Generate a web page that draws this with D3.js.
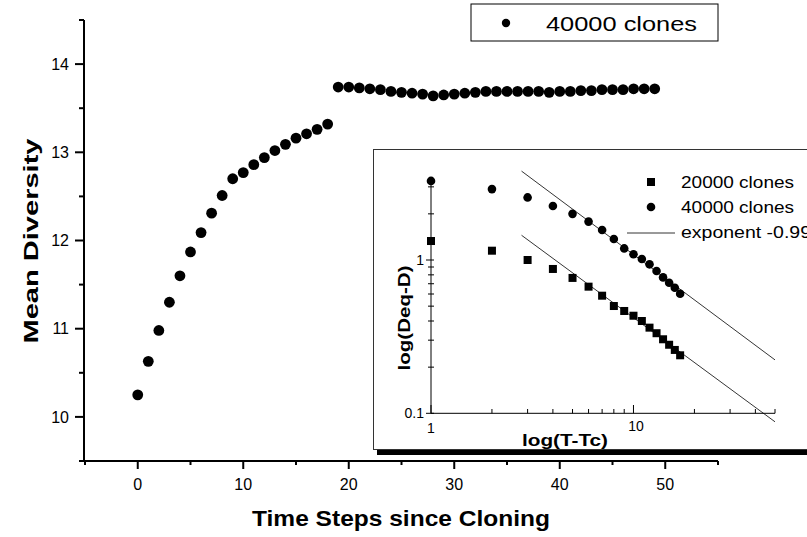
<!DOCTYPE html>
<html>
<head>
<meta charset="utf-8">
<script src="https://cdn.jsdelivr.net/npm/d3@7"></script>
<style>
  body { margin: 0; background: #fff; }
  text { font-family: Arial, "Liberation Sans", sans-serif; fill: #000; }
</style>
</head>
<body>
<script>
// main chart: mean diversity vs time, 40000 clones
var steps = d3.range(0, 50);
var diversity = [
  10.25, 10.63, 10.98, 11.30, 11.60, 11.87, 12.09, 12.31, 12.51, 12.70,
  12.77, 12.86, 12.94, 13.02, 13.09, 13.16, 13.21, 13.26, 13.32, 13.74,
  13.74, 13.73, 13.72, 13.71, 13.69, 13.68, 13.67, 13.66, 13.64, 13.65,
  13.66, 13.67, 13.68, 13.69, 13.69, 13.69, 13.69, 13.69, 13.69, 13.68,
  13.69, 13.69, 13.70, 13.70, 13.71, 13.71, 13.71, 13.72, 13.72, 13.72
];
var xTicks = [0, 10, 20, 30, 40, 50];
var yTicks = [10, 11, 12, 13, 14];

// inset: log(Deq-D) vs log(T-Tc)
var tMinusTc = d3.range(1, 18);
var clones20000 = [1.33, 1.15, 1.00, 0.874, 0.764, 0.670, 0.585, 0.501, 0.465,
                   0.433, 0.400, 0.362, 0.333, 0.304, 0.280, 0.259, 0.239];
var clones40000 = [3.28, 2.90, 2.56, 2.25, 2.00, 1.78, 1.57, 1.37, 1.19,
                   1.09, 1.015, 0.937, 0.848, 0.770, 0.711, 0.659, 0.603];
var fitUpper = [[2.8, 3.8], [50, 0.223]];
var fitLower = [[2.8, 1.45], [50, 0.088]];
var insetLegend = ["20000 clones", "40000 clones", "exponent -0.99"];

var width = 807, height = 537;
var svg = d3.select("body").append("svg")
    .attr("width", width).attr("height", height);

var x = d3.scaleLinear().domain([-5, 55]).range([85, 718]);
var y = d3.scaleLinear().domain([9.5, 14.5]).range([461, 20]);

// axes
var xAxis = svg.append("g").attr("transform", "translate(0,461)");
xAxis.append("line").attr("x1", 84).attr("x2", x(55)).attr("stroke", "#000").attr("stroke-width", 2);
xAxis.selectAll(".minor").data(d3.range(-5, 56, 5)).enter().append("line")
    .attr("x1", function(d) { return x(d); }).attr("x2", function(d) { return x(d); })
    .attr("y1", 0).attr("y2", function(d) { return d % 10 === 0 ? 8 : 4; })
    .attr("stroke", "#000").attr("stroke-width", 2);
xAxis.selectAll(".lbl").data(xTicks).enter().append("text")
    .attr("x", function(d) { return x(d); }).attr("y", 29)
    .attr("text-anchor", "middle").style("font-size", "16px")
    .text(function(d) { return d; });

var yAxis = svg.append("g").attr("transform", "translate(84,0)");
yAxis.append("line").attr("y1", y(14.5)).attr("y2", 462).attr("stroke", "#000").attr("stroke-width", 2);
yAxis.selectAll(".minor").data(d3.range(9.5, 14.6, 0.5)).enter().append("line")
    .attr("y1", function(d) { return y(d); }).attr("y2", function(d) { return y(d); })
    .attr("x1", 0).attr("x2", function(d) { return Math.abs(d - Math.round(d)) < 0.01 ? -9 : -5; })
    .attr("stroke", "#000").attr("stroke-width", 2);
yAxis.selectAll(".lbl").data(yTicks).enter().append("text")
    .attr("x", -15).attr("y", function(d) { return y(d); }).attr("dy", "0.35em")
    .attr("text-anchor", "end").style("font-size", "16px")
    .text(function(d) { return d; });

svg.append("text").attr("x", 401).attr("y", 526).attr("text-anchor", "middle")
    .attr("textLength", 298).attr("lengthAdjust", "spacingAndGlyphs")
    .style("font-size", "22px").style("font-weight", "bold").text("Time Steps since Cloning");
svg.append("text").attr("transform", "translate(38,241) rotate(-90)").attr("text-anchor", "middle")
    .attr("textLength", 205).attr("lengthAdjust", "spacingAndGlyphs")
    .style("font-size", "21px").style("font-weight", "bold").text("Mean Diversity");

// main points
svg.append("g").selectAll("circle").data(steps).enter().append("circle")
    .attr("cx", function(d) { return x(d); })
    .attr("cy", function(d, i) { return y(diversity[i]); })
    .attr("r", 5.4).attr("fill", "#000");

// main legend
var leg = svg.append("g");
leg.append("rect").attr("x", 471).attr("y", 4).attr("width", 247).attr("height", 37)
    .attr("fill", "#fff").attr("stroke", "#000").attr("stroke-width", 1);
leg.append("circle").attr("cx", 506).attr("cy", 23).attr("r", 4.2).attr("fill", "#000");
leg.append("text").attr("x", 546).attr("y", 31)
    .attr("textLength", 151).attr("lengthAdjust", "spacingAndGlyphs")
    .style("font-size", "21px").text("40000 clones");

// inset frame with shadow
var inset = svg.append("g");
inset.append("rect").attr("x", 377).attr("y", 450).attr("width", 440).attr("height", 5).attr("fill", "#000");
inset.append("rect").attr("x", 373.5).attr("y", 149.5).attr("width", 450).attr("height", 300)
    .attr("fill", "#fff").attr("stroke", "#333").attr("stroke-width", 1);

var lx = d3.scaleLog().domain([1, 50]).range([431, 775]);
var ly = d3.scaleLog().domain([0.1, 3.3]).range([413.3, 260 - Math.log10(3.3) * 153.3]);

// inset axes
inset.append("line").attr("x1", 431).attr("x2", 775).attr("y1", 413.3).attr("y2", 413.3).attr("stroke", "#000");
inset.append("line").attr("x1", 431).attr("x2", 431).attr("y1", 413.3).attr("y2", ly(3.3)).attr("stroke", "#000");
var xMinor = [1, 2, 3, 4, 5, 6, 7, 8, 9, 10, 20, 30, 40, 50];
inset.selectAll(".xt").data(xMinor).enter().append("line")
    .attr("x1", function(d) { return lx(d); }).attr("x2", function(d) { return lx(d); })
    .attr("y1", 413.3).attr("y2", function(d) { return d === 1 || d === 10 ? 405 : 409; })
    .attr("stroke", "#000");
var yMinor = [0.1, 0.2, 0.3, 0.4, 0.5, 0.6, 0.7, 0.8, 0.9, 1, 2, 3];
inset.selectAll(".yt").data(yMinor).enter().append("line")
    .attr("y1", function(d) { return ly(d); }).attr("y2", function(d) { return ly(d); })
    .attr("x1", function(d) { return d === 1 || d === 0.1 ? 426 : 428; }).attr("x2", 434)
    .attr("stroke", "#000");
inset.append("text").attr("x", 431).attr("y", 433).attr("text-anchor", "middle").style("font-size", "14px").text("1");
inset.append("text").attr("x", 636).attr("y", 431).attr("text-anchor", "middle").style("font-size", "14px").text("10");
inset.append("text").attr("x", 424).attr("y", ly(0.1)).attr("dy", "0.35em").attr("text-anchor", "end").style("font-size", "14px").text("0.1");
inset.append("text").attr("x", 424).attr("y", ly(1)).attr("dy", "0.35em").attr("text-anchor", "end").style("font-size", "14px").text("1");
inset.append("text").attr("x", 565).attr("y", 446).attr("text-anchor", "middle")
    .attr("textLength", 86).attr("lengthAdjust", "spacingAndGlyphs")
    .style("font-size", "16px").style("font-weight", "bold").text("log(T-Tc)");
inset.append("text").attr("transform", "translate(410,318) rotate(-90)").attr("text-anchor", "middle")
    .attr("textLength", 105).attr("lengthAdjust", "spacingAndGlyphs")
    .style("font-size", "16px").style("font-weight", "bold").text("log(Deq-D)");

// fit lines
var line = d3.line().x(function(d) { return lx(d[0]); }).y(function(d) { return ly(d[1]); });
[fitUpper, fitLower].forEach(function(f) {
  inset.append("path").attr("d", line(f)).attr("fill", "none").attr("stroke", "#000").attr("stroke-width", 0.8);
});

// inset points
inset.append("g").selectAll("rect").data(tMinusTc).enter().append("rect")
    .attr("x", function(d) { return lx(d) - 4; })
    .attr("y", function(d, i) { return ly(clones20000[i]) - 4; })
    .attr("width", 8).attr("height", 8).attr("fill", "#000");
inset.append("g").selectAll("circle").data(tMinusTc).enter().append("circle")
    .attr("cx", function(d) { return lx(d); })
    .attr("cy", function(d, i) { return ly(clones40000[i]); })
    .attr("r", 4.3).attr("fill", "#000");

// inset legend
var il = inset.append("g");
il.append("rect").attr("x", 647).attr("y", 178).attr("width", 8).attr("height", 8).attr("fill", "#000");
il.append("circle").attr("cx", 651).attr("cy", 207).attr("r", 4.3).attr("fill", "#000");
il.append("line").attr("x1", 627).attr("x2", 675).attr("y1", 233).attr("y2", 233).attr("stroke", "#000").attr("stroke-width", 0.8);
il.selectAll("text").data(insetLegend).enter().append("text")
    .attr("x", 681).attr("y", function(d, i) { return 188 + i * 25; })
    .attr("textLength", function(d, i) { return i < 2 ? 113 : 130; })
    .attr("lengthAdjust", "spacingAndGlyphs")
    .style("font-size", "16px").text(function(d) { return d; });
</script>
</body>
</html>
